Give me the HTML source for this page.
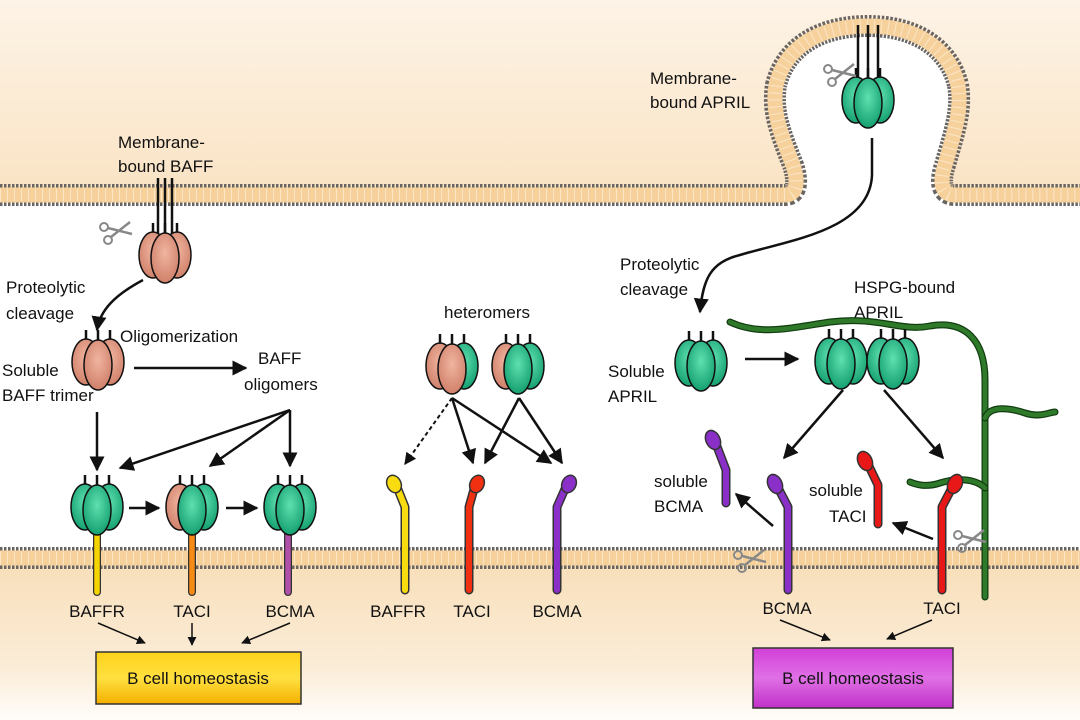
<!DOCTYPE html>
<html><head><meta charset="utf-8"><style>
html,body{margin:0;padding:0;background:#fff}
svg{display:block}
text{font-family:"Liberation Sans",Arial,sans-serif;font-size:17px;fill:#111}
</style></head><body>
<svg width="1080" height="720" viewBox="0 0 1080 720" xmlns="http://www.w3.org/2000/svg">
<defs>
<linearGradient id="topg" x1="0" y1="0" x2="0" y2="1"><stop offset="0" stop-color="#fdf3e6"/><stop offset="1" stop-color="#fae3c4"/></linearGradient>
<linearGradient id="botg" x1="0" y1="0" x2="0" y2="1"><stop offset="0" stop-color="#f8deb8"/><stop offset="0.7" stop-color="#fbedd9"/><stop offset="1" stop-color="#fffdfa"/></linearGradient>
<radialGradient id="gr" cx="0.5" cy="0.4" r="0.6"><stop offset="0" stop-color="#5fe0b0"/><stop offset="1" stop-color="#15a070"/></radialGradient>
<radialGradient id="rd" cx="0.5" cy="0.4" r="0.6"><stop offset="0" stop-color="#f0b5a0"/><stop offset="1" stop-color="#d0806a"/></radialGradient>
<linearGradient id="gold" x1="0" y1="0" x2="0" y2="1"><stop offset="0" stop-color="#ffd21a"/><stop offset="0.5" stop-color="#ffe040"/><stop offset="1" stop-color="#f4b000"/></linearGradient>
<linearGradient id="mag" x1="0" y1="0" x2="0" y2="1"><stop offset="0" stop-color="#d23fd8"/><stop offset="0.5" stop-color="#e070e6"/><stop offset="1" stop-color="#c030c8"/></linearGradient>
<marker id="ah" viewBox="0 0 10 10" refX="9" refY="5" markerWidth="6" markerHeight="6" orient="auto"><path d="M0,0L10,5L0,10z" fill="#111"/></marker>
<g id="tG">
 <line x1="-12" y1="-32" x2="-12" y2="-17" stroke="#111" stroke-width="2.5"/><line x1="0" y1="-32" x2="0" y2="-17" stroke="#111" stroke-width="2.5"/><line x1="12" y1="-32" x2="12" y2="-17" stroke="#111" stroke-width="2.5"/>
 <ellipse cx="-12" cy="0" rx="14" ry="23" fill="url(#gr)" stroke="#111" stroke-width="1.5"/>
 <ellipse cx="12" cy="0" rx="14" ry="23" fill="url(#gr)" stroke="#111" stroke-width="1.5"/>
 <ellipse cx="0" cy="3" rx="14" ry="25" fill="url(#gr)" stroke="#111" stroke-width="1.5"/>
</g>
<g id="tR">
 <line x1="-12" y1="-32" x2="-12" y2="-17" stroke="#111" stroke-width="2.5"/><line x1="0" y1="-32" x2="0" y2="-17" stroke="#111" stroke-width="2.5"/><line x1="12" y1="-32" x2="12" y2="-17" stroke="#111" stroke-width="2.5"/>
 <ellipse cx="-12" cy="0" rx="14" ry="23" fill="url(#rd)" stroke="#111" stroke-width="1.5"/>
 <ellipse cx="12" cy="0" rx="14" ry="23" fill="url(#rd)" stroke="#111" stroke-width="1.5"/>
 <ellipse cx="0" cy="3" rx="14" ry="25" fill="url(#rd)" stroke="#111" stroke-width="1.5"/>
</g>
<g id="tRRG">
 <line x1="-12" y1="-32" x2="-12" y2="-17" stroke="#111" stroke-width="2.5"/><line x1="0" y1="-32" x2="0" y2="-17" stroke="#111" stroke-width="2.5"/><line x1="12" y1="-32" x2="12" y2="-17" stroke="#111" stroke-width="2.5"/>
 <ellipse cx="12" cy="0" rx="14" ry="23" fill="url(#gr)" stroke="#111" stroke-width="1.5"/>
 <ellipse cx="-12" cy="0" rx="14" ry="23" fill="url(#rd)" stroke="#111" stroke-width="1.5"/>
 <ellipse cx="0" cy="3" rx="14" ry="25" fill="url(#rd)" stroke="#111" stroke-width="1.5"/>
</g>
<g id="tRGG">
 <line x1="-12" y1="-32" x2="-12" y2="-17" stroke="#111" stroke-width="2.5"/><line x1="0" y1="-32" x2="0" y2="-17" stroke="#111" stroke-width="2.5"/><line x1="12" y1="-32" x2="12" y2="-17" stroke="#111" stroke-width="2.5"/>
 <ellipse cx="-12" cy="0" rx="14" ry="23" fill="url(#rd)" stroke="#111" stroke-width="1.5"/>
 <ellipse cx="12" cy="0" rx="14" ry="23" fill="url(#gr)" stroke="#111" stroke-width="1.5"/>
 <ellipse cx="0" cy="3" rx="14" ry="25" fill="url(#gr)" stroke="#111" stroke-width="1.5"/>
</g>
<g id="sc" fill="none" stroke="#888" stroke-width="2">
 <circle cx="-14" cy="-5" r="4"/><circle cx="-10" cy="8" r="4"/>
 <path d="M-10,-4 L14,2 M-7,5 L12,-10" stroke-width="2.5"/>
</g>
</defs>

<path d="M0,0 L1080,0 L1080,195 L955,195 C940,195 940,180 945,165 C955,130 962,110 958,85 C948,45 912,26 868,26 C822,26 786,45 776,85 C772,110 779,130 793,165 C798,180 798,195 785,195 L0,195 Z" fill="url(#topg)"/>
<rect x="0" y="558" width="1080" height="162" fill="url(#botg)"/>

<g fill="none">
<path id="mp" d="M0,195 L785,195 C798,195 798,180 793,165 C779,130 772,110 776,85 C786,45 822,26 868,26 C912,26 948,45 958,85 C962,110 955,130 945,165 C940,180 940,195 955,195 L1080,195" stroke="#6a6560" stroke-width="22" stroke-dasharray="2.5 1.5"/>
<path d="M0,195 L785,195 C798,195 798,180 793,165 C779,130 772,110 776,85 C786,45 822,26 868,26 C912,26 948,45 958,85 C962,110 955,130 945,165 C940,180 940,195 955,195 L1080,195" stroke="#f6d19c" stroke-width="15"/>
<path d="M0,195 L785,195 C798,195 798,180 793,165 C779,130 772,110 776,85 C786,45 822,26 868,26 C912,26 948,45 958,85 C962,110 955,130 945,165 C940,180 940,195 955,195 L1080,195" stroke="#fbe6c8" stroke-width="13" stroke-dasharray="1 6"/>
<line x1="0" y1="558" x2="1080" y2="558" stroke="#6a6560" stroke-width="22" stroke-dasharray="2.5 1.5"/>
<line x1="0" y1="558" x2="1080" y2="558" stroke="#f6d19c" stroke-width="15"/>
<line x1="0" y1="558" x2="1080" y2="558" stroke="#fbe6c8" stroke-width="13" stroke-dasharray="1 6"/>
</g>

<!-- LEFT -->
<text x="118" y="148">Membrane-</text><text x="118" y="172">bound BAFF</text>
<line x1="158" y1="178" x2="158" y2="240" stroke="#111" stroke-width="2.5"/>
<line x1="165" y1="178" x2="165" y2="240" stroke="#111" stroke-width="2.5"/>
<line x1="172" y1="178" x2="172" y2="240" stroke="#111" stroke-width="2.5"/>
<use href="#tR" x="165" y="255"/>
<use href="#sc" x="118" y="232"/>
<text x="6" y="293">Proteolytic</text><text x="6" y="319">cleavage</text>
<path d="M143,280 C115,295 100,310 97,330" fill="none" stroke="#111" stroke-width="2.5" marker-end="url(#ah)"/>
<use href="#tR" x="98" y="362"/>
<text x="120" y="342">Oligomerization</text>
<line x1="134" y1="368" x2="246" y2="368" stroke="#111" stroke-width="2.5" marker-end="url(#ah)"/>
<text x="2" y="376">Soluble</text><text x="2" y="401">BAFF trimer</text>
<text x="258" y="364">BAFF</text><text x="244" y="390">oligomers</text>
<line x1="97" y1="412" x2="97" y2="470" stroke="#111" stroke-width="2.5" marker-end="url(#ah)"/>
<line x1="290" y1="410" x2="120" y2="468" stroke="#111" stroke-width="2.5" marker-end="url(#ah)"/>
<line x1="290" y1="410" x2="210" y2="466" stroke="#111" stroke-width="2.5" marker-end="url(#ah)"/>
<line x1="290" y1="410" x2="290" y2="466" stroke="#111" stroke-width="2.5" marker-end="url(#ah)"/>

<line x1="97" y1="525" x2="97" y2="592" stroke="#333" stroke-width="8" stroke-linecap="round"/><line x1="97" y1="525" x2="97" y2="592" stroke="#f6d400" stroke-width="5.5" stroke-linecap="round"/>
<line x1="192" y1="525" x2="192" y2="592" stroke="#333" stroke-width="8" stroke-linecap="round"/><line x1="192" y1="525" x2="192" y2="592" stroke="#f58a14" stroke-width="5.5" stroke-linecap="round"/>
<line x1="288" y1="525" x2="288" y2="592" stroke="#333" stroke-width="8" stroke-linecap="round"/><line x1="288" y1="525" x2="288" y2="592" stroke="#b050a8" stroke-width="5.5" stroke-linecap="round"/>
<use href="#tG" x="97" y="507"/>
<use href="#tRGG" x="192" y="507"/>
<use href="#tG" x="290" y="507"/>
<line x1="129" y1="508" x2="159" y2="508" stroke="#111" stroke-width="2.5" marker-end="url(#ah)"/>
<line x1="226" y1="508" x2="257" y2="508" stroke="#111" stroke-width="2.5" marker-end="url(#ah)"/>
<text x="97" y="617" text-anchor="middle">BAFFR</text>
<text x="192" y="617" text-anchor="middle">TACI</text>
<text x="290" y="617" text-anchor="middle">BCMA</text>
<line x1="98" y1="623" x2="145" y2="643" stroke="#111" stroke-width="1.5" marker-end="url(#ah)"/>
<line x1="192" y1="623" x2="192" y2="645" stroke="#111" stroke-width="1.5" marker-end="url(#ah)"/>
<line x1="290" y1="623" x2="242" y2="643" stroke="#111" stroke-width="1.5" marker-end="url(#ah)"/>
<rect x="96" y="652" width="205" height="52" fill="url(#gold)" stroke="#333" stroke-width="1.5"/>
<text x="198" y="684" text-anchor="middle" font-size="18">B cell homeostasis</text>

<!-- MIDDLE -->
<text x="487" y="318" text-anchor="middle">heteromers</text>
<use href="#tRRG" x="452" y="366"/>
<use href="#tRGG" x="518" y="366"/>
<line x1="452" y1="398" x2="405" y2="464" stroke="#111" stroke-width="2" stroke-dasharray="4 3" marker-end="url(#ah)"/>
<line x1="452" y1="398" x2="473" y2="463" stroke="#111" stroke-width="2.5" marker-end="url(#ah)"/>
<line x1="452" y1="398" x2="551" y2="463" stroke="#111" stroke-width="2.5" marker-end="url(#ah)"/>
<line x1="519" y1="398" x2="485" y2="463" stroke="#111" stroke-width="2.5" marker-end="url(#ah)"/>
<line x1="519" y1="398" x2="562" y2="463" stroke="#111" stroke-width="2.5" marker-end="url(#ah)"/>
<g fill="none" stroke-linecap="round" stroke-linejoin="round">
<path d="M395,482 L405,507 L405,590" stroke="#333" stroke-width="9"/><path d="M395,482 L405,507 L405,590" stroke="#f8dc10" stroke-width="6"/>
<path d="M476,482 L469,507 L469,590" stroke="#333" stroke-width="9"/><path d="M476,482 L469,507 L469,590" stroke="#f03010" stroke-width="6"/>
<path d="M568,482 L557,507 L557,590" stroke="#333" stroke-width="9"/><path d="M568,482 L557,507 L557,590" stroke="#8a30c8" stroke-width="6"/>
</g>
<ellipse cx="394" cy="484" rx="7" ry="9" transform="rotate(-25 394 484)" fill="#f8dc10" stroke="#333" stroke-width="1.5"/>
<ellipse cx="477" cy="484" rx="7" ry="9" transform="rotate(25 477 484)" fill="#f03010" stroke="#333" stroke-width="1.5"/>
<ellipse cx="569" cy="484" rx="7" ry="9" transform="rotate(25 569 484)" fill="#8a30c8" stroke="#333" stroke-width="1.5"/>
<text x="398" y="617" text-anchor="middle">BAFFR</text>
<text x="472" y="617" text-anchor="middle">TACI</text>
<text x="557" y="617" text-anchor="middle">BCMA</text>

<!-- RIGHT -->
<text x="650" y="84">Membrane-</text><text x="650" y="108">bound APRIL</text>
<line x1="858" y1="25" x2="858" y2="82" stroke="#111" stroke-width="2.5"/>
<line x1="868" y1="25" x2="868" y2="82" stroke="#111" stroke-width="2.5"/>
<line x1="878" y1="25" x2="878" y2="82" stroke="#111" stroke-width="2.5"/>
<use href="#tG" x="868" y="100"/>
<use href="#sc" x="842" y="74"/>
<path d="M872,138 L872,175 C870,230 790,240 740,255 C710,262 703,280 700,312" fill="none" stroke="#111" stroke-width="2.5" marker-end="url(#ah)"/>
<text x="620" y="270">Proteolytic</text><text x="620" y="295">cleavage</text>
<use href="#tG" x="701" y="363"/>
<text x="608" y="377">Soluble</text><text x="608" y="402">APRIL</text>
<line x1="745" y1="359" x2="798" y2="359" stroke="#111" stroke-width="2.5" marker-end="url(#ah)"/>
<text x="854" y="293">HSPG-bound</text><text x="854" y="318">APRIL</text>
<g fill="none" stroke="#2e7a2a" stroke-linecap="round">
<path d="M730,322 C760,336 790,328 830,322 C880,316 900,332 930,326 C965,320 985,340 985,380 L985,597" stroke="#123d10" stroke-width="7"/>
<path d="M730,322 C760,336 790,328 830,322 C880,316 900,332 930,326 C965,320 985,340 985,380 L985,597" stroke-width="4.5"/>
<path d="M985,418 C990,405 1010,408 1025,413 C1040,418 1050,412 1055,412" stroke="#123d10" stroke-width="7"/>
<path d="M985,418 C990,405 1010,408 1025,413 C1040,418 1050,412 1055,412" stroke-width="4.5"/>
<path d="M985,488 C975,478 955,478 940,483 C925,488 915,484 910,482" stroke="#123d10" stroke-width="7"/>
<path d="M985,488 C975,478 955,478 940,483 C925,488 915,484 910,482" stroke-width="4.5"/>
</g>
<use href="#tG" x="841" y="361"/>
<use href="#tG" x="893" y="361"/>
<line x1="843" y1="390" x2="784" y2="458" stroke="#111" stroke-width="2.5" marker-end="url(#ah)"/>
<line x1="884" y1="390" x2="943" y2="458" stroke="#111" stroke-width="2.5" marker-end="url(#ah)"/>
<g fill="none" stroke-linecap="round" stroke-linejoin="round">
<path d="M713,436 L726,470 L726,503" stroke="#333" stroke-width="9"/><path d="M713,436 L726,470 L726,503" stroke="#8a30c8" stroke-width="6"/>
<path d="M775,482 L788,507 L788,590" stroke="#333" stroke-width="9"/><path d="M775,482 L788,507 L788,590" stroke="#8a30c8" stroke-width="6"/>
<path d="M865,458 L878,485 L878,524" stroke="#333" stroke-width="9"/><path d="M865,458 L878,485 L878,524" stroke="#e81818" stroke-width="6"/>
<path d="M955,482 L942,507 L942,590" stroke="#333" stroke-width="9"/><path d="M955,482 L942,507 L942,590" stroke="#e81818" stroke-width="6"/>
</g>
<ellipse cx="713" cy="440" rx="7" ry="10" transform="rotate(-25 713 440)" fill="#8a30c8" stroke="#333" stroke-width="1.5"/>
<ellipse cx="775" cy="484" rx="7" ry="10" transform="rotate(-25 775 484)" fill="#8a30c8" stroke="#333" stroke-width="1.5"/>
<ellipse cx="865" cy="461" rx="7" ry="10" transform="rotate(-25 865 461)" fill="#e81818" stroke="#333" stroke-width="1.5"/>
<ellipse cx="955" cy="484" rx="7" ry="10" transform="rotate(25 955 484)" fill="#e81818" stroke="#333" stroke-width="1.5"/>
<text x="654" y="487">soluble</text><text x="654" y="512">BCMA</text>
<text x="809" y="496">soluble</text><text x="829" y="522">TACI</text>
<line x1="773" y1="526" x2="736" y2="494" stroke="#111" stroke-width="2.5" marker-end="url(#ah)"/>
<line x1="933" y1="539" x2="893" y2="523" stroke="#111" stroke-width="2.5" marker-end="url(#ah)"/>
<use href="#sc" x="752" y="560"/>
<use href="#sc" x="972" y="540"/>
<text x="787" y="614" text-anchor="middle">BCMA</text>
<text x="942" y="614" text-anchor="middle">TACI</text>
<line x1="780" y1="620" x2="830" y2="640" stroke="#111" stroke-width="1.5" marker-end="url(#ah)"/>
<line x1="932" y1="620" x2="887" y2="639" stroke="#111" stroke-width="1.5" marker-end="url(#ah)"/>
<rect x="753" y="648" width="200" height="60" fill="url(#mag)" stroke="#333" stroke-width="1.5"/>
<text x="853" y="684" text-anchor="middle" font-size="18">B cell homeostasis</text>
</svg>
</body></html>
